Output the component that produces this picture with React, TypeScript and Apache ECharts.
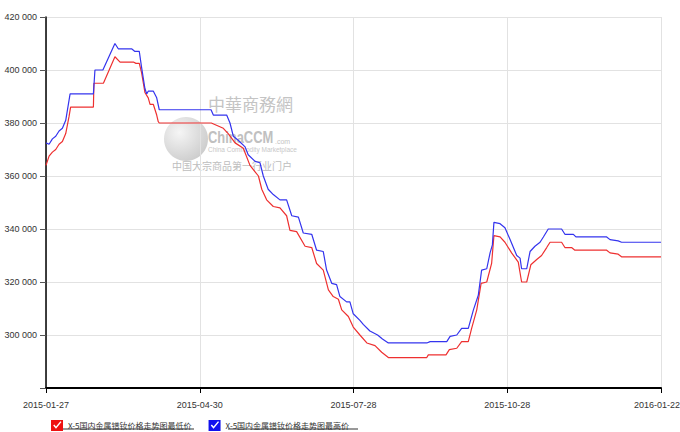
import React, { useEffect, useRef } from "react";
import * as echarts from "echarts";

// x positions are trading-day indexes (60 per labelled interval)
const xTickLabels = ["2015-01-27", "2015-04-30", "2015-07-28", "2015-10-28", "2016-01-22"];
const seriesNames = ["X-5国内金属镨钕价格走势图最低价", "X-5国内金属镨钕价格走势图最高价"];

const highIdx = [
  0, 1.2, 2.5, 3.8, 5.1, 6.4, 7.7, 9.4, 18.5, 19.1, 22.2, 26.9, 28.2, 33.4, 34.7, 36.4, 37.3, 38.6, 39.3, 39.9,
  41.9, 43.2, 44.2, 64.4, 65.3, 70.5, 71.8, 73.1, 75.0, 77.7, 78.9, 81.6, 83.5, 84.8, 86.7, 88.7, 91.3, 93.9,
  95.9, 98.5, 100.4, 103.7, 105.6, 108.2, 109.5, 111.5, 113.4, 114.7, 117.3, 118.6, 119.9, 122.5, 123.8, 126.4,
  129.4, 131.3, 133.6, 148.6, 149.9, 156.4, 157.7, 160.3, 162.2, 164.8, 166.8, 168.7, 170.0, 172.0, 173.3, 174.2,
  174.8, 177.2, 179.1, 181.1, 183.7, 185.0, 185.6, 187.6, 188.9, 190.8, 192.8, 194.1, 196.0, 201.2, 202.5, 205.8,
  206.8, 218.8, 220.1, 223.3, 224.6, 240,
];
const highPrice = [
  372500, 372000, 374000, 375000, 377000, 378000, 381000, 391000, 391000, 400000, 400000, 410000, 408000, 408000,
  407000, 407000, 401000, 393000, 391000, 392000, 392000, 389500, 385000, 385000, 383000, 383000, 380000, 375000,
  373500, 371000, 368000, 365500, 365000, 360000, 355000, 353000, 351000, 351000, 345000, 344500, 338500, 338000,
  332000, 331500, 324500, 319500, 319000, 314500, 312500, 312500, 308000, 305500, 304000, 301500, 300000, 298500,
  297000, 297000, 297500, 297500, 299500, 300000, 302500, 302500, 309500, 315000, 324500, 325000, 331000, 334000,
  342500, 342000, 340500, 336000, 330000, 329000, 325000, 325000, 331500, 333500, 335000, 337000, 340000, 340000,
  338000, 338000, 337000, 337000, 336000, 335500, 335000, 335000,
];

const lowIdx = [
  0, 1.2, 2.5, 3.8, 5.1, 6.4, 7.7, 9.0, 9.6, 18.5, 18.7, 22.4, 26.9, 28.9, 34.1, 35.1, 36.4, 37.3, 38.6, 39.9,
  40.6, 41.9, 43.2, 43.8, 44.2, 64.5, 69.2, 71.1, 73.8, 77.0, 79.6, 82.9, 84.2, 86.1, 88.7, 91.3, 93.9, 95.2,
  97.8, 101.1, 103.7, 105.6, 108.2, 110.2, 112.1, 114.1, 115.4, 118.0, 119.9, 122.5, 125.2, 128.4, 131.0, 133.6,
  148.6, 149.2, 156.1, 157.4, 160.3, 162.2, 164.8, 166.1, 168.1, 169.8, 172.0, 173.9, 174.8, 177.2, 179.1, 181.7,
  184.3, 185.6, 187.6, 189.2, 191.5, 193.4, 195.4, 196.7, 201.2, 202.5, 205.1, 206.4, 218.8, 220.1, 223.3, 224.6,
  240,
];
const lowPrice = [
  364000, 367500, 369000, 370000, 372000, 373000, 376000, 382500, 386000, 386000, 395000, 395000, 405000, 403000,
  403000, 402500, 402500, 399000, 391500, 389500, 387000, 387000, 383000, 380500, 380000, 380000, 378000, 376000,
  372500, 370500, 364000, 360000, 355000, 351000, 348500, 348000, 345000, 339500, 339000, 333500, 333000, 327000,
  324500, 317000, 314500, 313500, 309500, 307000, 303000, 300000, 297000, 296000, 293500, 291500, 291500, 292500,
  292500, 294500, 295000, 297500, 297500, 302500, 309500, 319500, 320000, 327000, 337500, 337000, 335000, 331000,
  327500, 320000, 320000, 326500, 328500, 330000, 333000, 335000, 335000, 333000, 333000, 332000, 332000, 331000,
  330500, 329500, 329500,
];

const yTicks = { min: 280000, max: 420000, step: 20000 };

const lineColors = ["#ee3030", "#3434ee"];
const iconColors = ["#ee1111", "#1111ee"];

const checkIcon =
  "path://M0,0 H12 V11 H0 Z M2.2,5.6 L5,8.8 L10.5,2 L9.4,1.2 L5,6.6 L3.3,4.6 Z";

export default function App() {
  const ref = useRef<HTMLDivElement>(null);

  useEffect(() => {
    document.body.style.margin = "0";
    if (!ref.current) return;
    const chart = echarts.init(ref.current, null, { renderer: "svg" });

    const toPairs = (xs: number[], ys: number[]) => xs.map((x, i) => [x, ys[i]]);

    chart.setOption({
      animation: false,
      backgroundColor: "#ffffff",
      grid: { left: 46, right: 19, top: 17, bottom: 44, containLabel: false, outerBoundsMode: "none" },
      xAxis: {
        type: "value",
        min: 0,
        max: 240,
        interval: 60,
        axisLine: { show: true, lineStyle: { color: "#000", width: 2 } },
        axisTick: { show: true, length: 5, lineStyle: { color: "#000" } },
        axisLabel: {
          color: "#333",
          fontSize: 9,
          fontFamily: "Liberation Sans, Arial",
          margin: 12,
          hideOverlap: false,
          formatter: (v: number) => {
            const i = Math.round(v / 60);
            const t = xTickLabels[i] ?? "";
            return i === xTickLabels.length - 1 ? `{last|${t}}` : t;
          },
          rich: {
            last: {
              color: "#333",
              fontSize: 9,
              fontFamily: "Liberation Sans, Arial",
              padding: [0, 8, 0, 0],
            },
          },
        },
        splitLine: { show: true, lineStyle: { color: "#e2e2e2", width: 1 } },
      },
      yAxis: {
        type: "value",
        min: yTicks.min,
        max: yTicks.max,
        interval: yTicks.step,
        axisLine: { show: true, lineStyle: { color: "#000", width: 1.5 } },
        axisTick: { show: true, length: 6, lineStyle: { color: "#555" } },
        axisLabel: {
          color: "#333",
          fontSize: 9,
          fontFamily: "Liberation Sans, Arial",
          margin: 9,
          formatter: (v: number) =>
            v === yTicks.min ? "" : String(v).replace(/\B(?=(\d{3})+(?!\d))/g, " "),
        },
        splitLine: { show: true, lineStyle: { color: "#e2e2e2", width: 1 } },
      },
      legend: {
        left: 46,
        top: 415,
        itemGap: 17,
        itemWidth: 12,
        itemHeight: 11,
        textStyle: { color: "#333", fontSize: 8, fontFamily: "Noto Sans CJK SC" },
        data: seriesNames.map((n, i) => ({ name: n, icon: checkIcon, itemStyle: { color: iconColors[i] } })),
      },
      graphic: [
        {
          type: "circle",
          shape: { cx: 186, cy: 139, r: 22 },
          style: {
            fill: new echarts.graphic.RadialGradient(0.35, 0.35, 0.8, [
              { offset: 0, color: "#f2f2f2" },
              { offset: 1, color: "#b5b5b5" },
            ]),
            opacity: 0.75,
          },
          z: 0,
        },
        {
          type: "text",
          x: 208,
          y: 95,
          style: { text: "中華商務網", fill: "#c4c4c4", font: "17px 'Noto Sans CJK TC'" },
          z: 0,
        },
        {
          type: "text",
          x: 208,
          y: 128,
          scaleX: 0.76,
          style: { text: "ChinaCCM", fill: "#c0c0c0", font: "bold 17px 'Liberation Sans', Arial" },
          z: 0,
        },
        {
          type: "text",
          x: 275,
          y: 138,
          style: { text: ".com", fill: "#c4c4c4", font: "7px 'Liberation Sans', Arial" },
          z: 0,
        },
        {
          type: "text",
          x: 208,
          y: 146,
          style: { text: "China Commodity Marketplace", fill: "#c8c8c8", font: "6.5px 'Liberation Sans', Arial" },
          z: 0,
        },
        {
          type: "text",
          x: 172,
          y: 160,
          style: { text: "中国大宗商品第一行业门户", fill: "#bdbdbd", font: "10px 'Noto Sans CJK SC'" },
          z: 0,
        },
        {
          type: "line",
          shape: { x1: 63, y1: 429, x2: 194, y2: 429 },
          style: { stroke: "#333", lineWidth: 1 },
        },
        {
          type: "line",
          shape: { x1: 228, y1: 429, x2: 358, y2: 429 },
          style: { stroke: "#333", lineWidth: 1 },
        },
      ],
      series: [
        {
          name: seriesNames[0],
          type: "line",
          data: toPairs(lowIdx, lowPrice),
          showSymbol: false,
          symbol: "none",
          lineStyle: { color: lineColors[0], width: 1.2 },
          itemStyle: { color: lineColors[0] },
          z: 3,
        },
        {
          name: seriesNames[1],
          type: "line",
          data: toPairs(highIdx, highPrice),
          showSymbol: false,
          symbol: "none",
          lineStyle: { color: lineColors[1], width: 1.2 },
          itemStyle: { color: lineColors[1] },
          z: 3,
        },
      ],
    });

    return () => chart.dispose();
  }, []);

  return <div ref={ref} style={{ width: 680, height: 432 }} />;
}
